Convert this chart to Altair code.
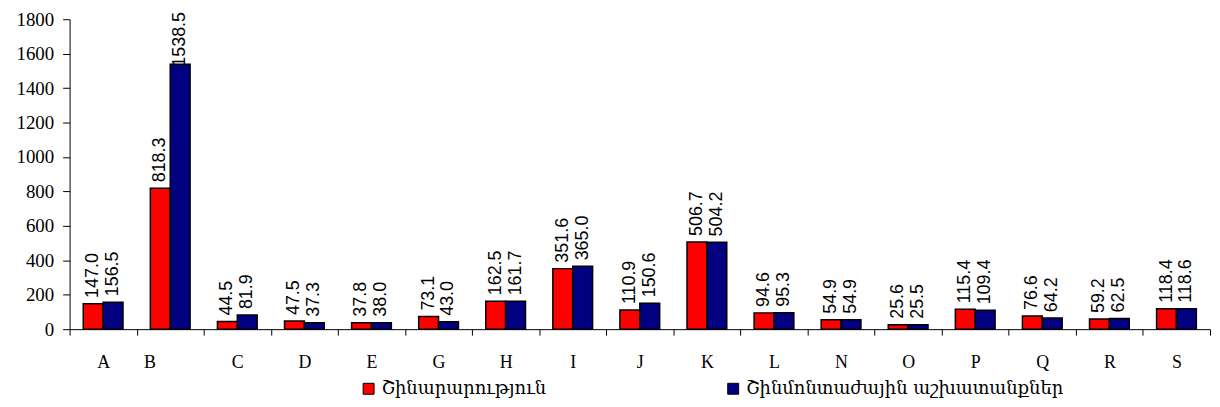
import altair as alt
import pandas as pd

categories = ["A", "B", "C", "D", "E", "G", "H", "I", "J", "K", "L", "N", "O", "P", "Q", "R", "S"]
series_names = ["Շինարարություն", "Շինմոնտաժային աշխատանքներ"]
construction = [147.0, 818.3, 44.5, 47.5, 37.8, 73.1, 162.5, 351.6, 110.9, 506.7, 94.6, 54.9, 25.6, 115.4, 76.6, 59.2, 118.4]
installation = [156.5, 1538.5, 81.9, 37.3, 38.0, 43.0, 161.7, 365.0, 150.6, 504.2, 95.3, 54.9, 25.5, 109.4, 64.2, 62.5, 118.6]
y_ticks = [0, 200, 400, 600, 800, 1000, 1200, 1400, 1600, 1800]

rows = []
for c, a, b in zip(categories, construction, installation):
    rows.append({"cat": c, "series": series_names[0], "value": a})
    rows.append({"cat": c, "series": series_names[1], "value": b})
df = pd.DataFrame(rows)

x = alt.X(
    "cat:N", sort=categories,
    scale=alt.Scale(paddingInner=0, paddingOuter=0),
    axis=alt.Axis(
        title=None, labelAngle=0, tickBand="extent", tickSize=6, tickColor="black",
        domainColor="black", labelFont="Liberation Serif", labelFontSize=18,
        labelColor="black", labelPadding=19,
        labelOffset={"condition": {"test": "datum.value === 'B'", "value": -21}, "value": 0},
    ),
)
xo = alt.XOffset("series:N", sort=series_names,
                 scale=alt.Scale(paddingInner=0, paddingOuter=0.6875))
yscale = alt.Scale(domain=[0, 1800], nice=False)
yaxis = alt.Axis(
    title=None, values=y_ticks, format="d", grid=False, tickSize=7, tickColor="black",
    domainColor="black", labelFont="Liberation Serif", labelFontSize=19,
    labelColor="black", labelPadding=9, labelOverlap=False,
)
color = alt.Color(
    "series:N", sort=series_names,
    scale=alt.Scale(domain=series_names, range=["#FF0000", "#000080"]),
    legend=alt.Legend(
        title=None, orient="none", legendX=292, legendY=363, direction="horizontal",
        columns=2, columnPadding=179, symbolType="square", symbolSize=121,
        symbolStrokeColor="black", symbolStrokeWidth=1, labelFont="DejaVu Serif",
        labelFontSize=18, labelColor="black", labelLimit=0,
    ),
)

base = alt.Chart(df).encode(x=x, xOffset=xo)
bars = base.mark_bar(stroke="black", strokeWidth=1.5).encode(
    y=alt.Y("value:Q", scale=yscale, axis=yaxis), color=color
)
labels = base.transform_calculate(
    label_y="min(datum.value, 1490)"
).mark_text(
    angle=270, align="left", baseline="middle", dx=6,
    font="Liberation Sans", fontSize=18, color="black",
).encode(
    y=alt.Y("label_y:Q", scale=yscale, axis=yaxis),
    text=alt.Text("value:Q", format=".1f"),
)

chart = (
    alt.layer(bars, labels)
    .properties(
        width=1148, height=312,
        autosize=alt.AutoSizeParams(type="none"),
        padding={"left": 62, "top": 10, "right": 2, "bottom": 69},
    )
    .configure_view(stroke=None)
)

chart.save("out.html", embed_options={"renderer": "svg", "actions": False})
